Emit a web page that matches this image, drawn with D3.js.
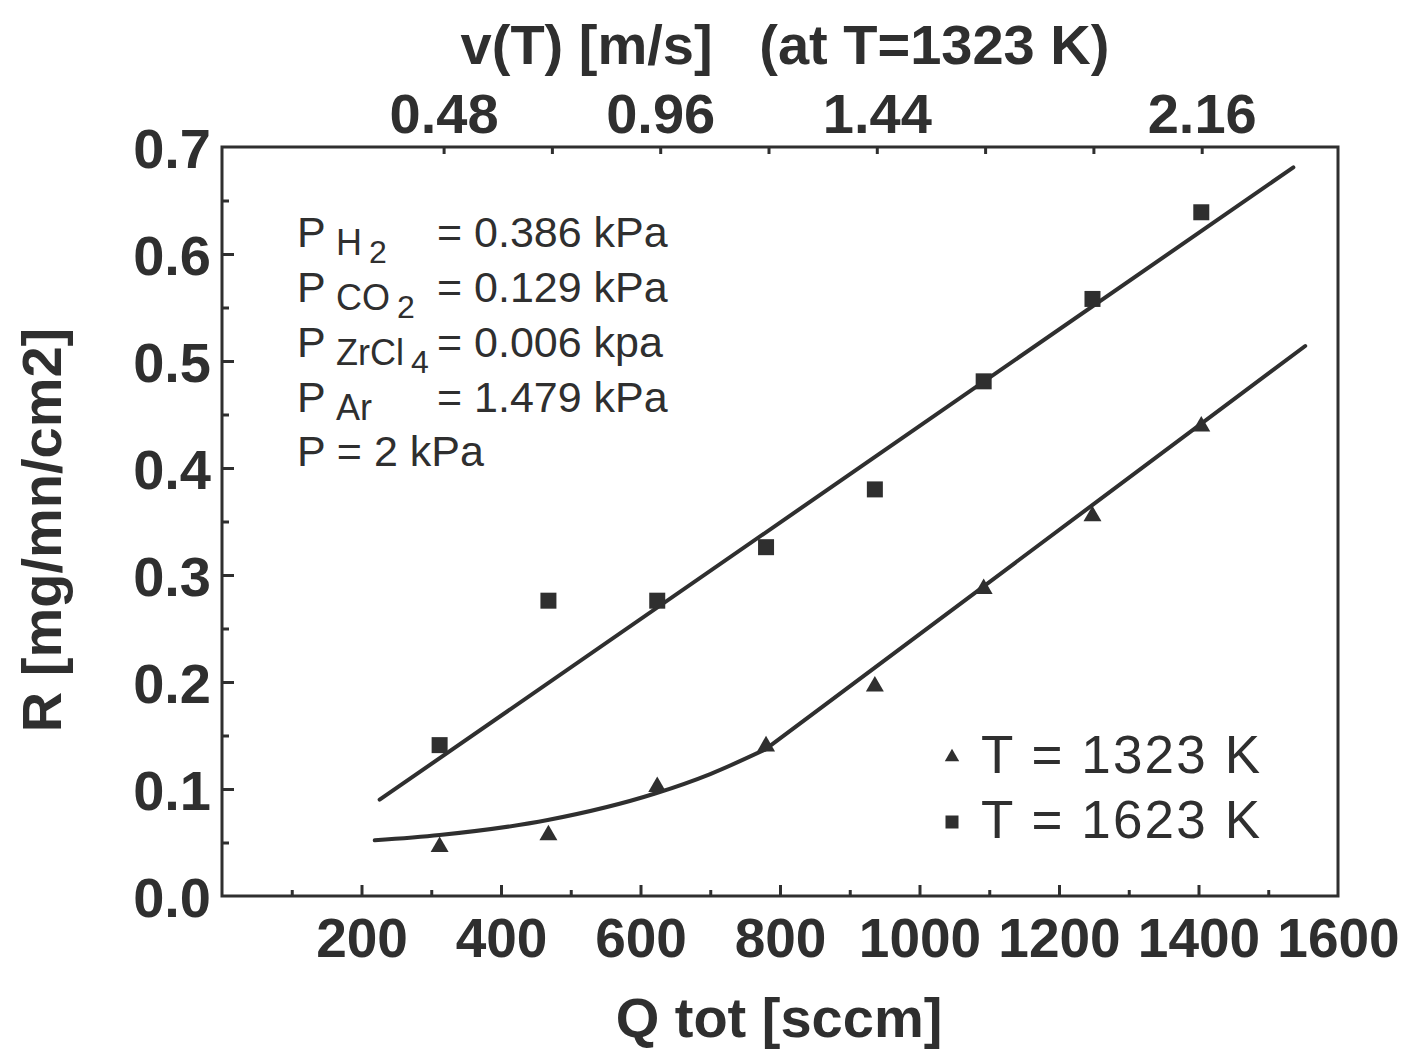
<!DOCTYPE html>
<html>
<head>
<meta charset="utf-8">
<script src="https://cdn.jsdelivr.net/npm/d3@7"></script>
<style>
  html, body { margin: 0; padding: 0; background: #ffffff; }
  svg { display: block; }
  text { font-family: "Liberation Sans", Arial, Helvetica, sans-serif; fill: #2f2f2f; }
</style>
</head>
<body>
<script>
// ---------------- data ----------------
const flowQ = [312, 468, 624, 780, 936, 1092, 1248, 1404];           // Q tot [sccm]
const rate1323 = [0.046, 0.057, 0.102, 0.140, 0.196, 0.287, 0.355, 0.439]; // triangles
const rate1623 = [0.141, 0.276, 0.276, 0.326, 0.380, 0.481, 0.558, 0.639]; // squares

const fit1623Q = [226, 1536];
const fit1623R = [0.090, 0.681];
// 1323 K fit: curved part at low flow, straight part above ~780 sccm
const fit1323CurveQ = [219, 312, 467, 622, 700, 779];
const fit1323CurveR = [0.052, 0.057, 0.071, 0.096, 0.114, 0.137];
const fit1323LineQ = [779, 1553];
const fit1323LineR = [0.137, 0.514];

const xTicksMajor = [200, 400, 600, 800, 1000, 1200, 1400, 1600];
const xTicksMinor = [100, 300, 500, 700, 900, 1100, 1300, 1500];
const yTicksMajor = [0.0, 0.1, 0.2, 0.3, 0.4, 0.5, 0.6, 0.7];
const yTicksMinor = [0.05, 0.15, 0.25, 0.35, 0.45, 0.55, 0.65];
const vTicks = [0.48, 0.72, 0.96, 1.20, 1.44, 1.68, 1.92, 2.16];
const vTickLabels = ["0.48", "", "0.96", "", "1.44", "", "", "2.16"];

const legendLabels = ["T = 1323 K", "T = 1623 K"];
const pressureLines = [
  { main: "P", sub: "H", subsub: "2", value: "= 0.386 kPa" },
  { main: "P", sub: "CO", subsub: "2", value: "= 0.129 kPa" },
  { main: "P", sub: "ZrCl", subsub: "4", value: "= 0.006 kpa" },
  { main: "P", sub: "Ar", subsub: "", value: "= 1.479 kPa" }
];
const totalPressure = "P = 2 kPa";

(function () {
// ---------------- layout ----------------
const W = 1421, H = 1053;
const pL = 222, pR = 1338, pT = 147, pB = 896;
const ink = "#2f2f2f";

const svg = d3.select("body").append("svg").attr("width", W).attr("height", H);

const x = d3.scaleLinear().domain([0, 1600]).range([pL, pR]);
const y = d3.scaleLinear().domain([0, 0.7]).range([pB, pT]);
const vStepPx = 108.3;
const vZeroPx = 227;
const v = d3.scaleLinear()
  .domain([-(vZeroPx - pL) / vStepPx * 0.24, (pR - vZeroPx) / vStepPx * 0.24])
  .range([pL, pR]);

function styleAxis(g) {
  g.select(".domain").remove();
  g.selectAll(".tick line").attr("stroke", ink).attr("stroke-width", 3);
}

// bottom major
const gxB = svg.append("g").attr("transform", `translate(0,${pB})`)
  .call(d3.axisBottom(x).tickValues(xTicksMajor).tickSize(-11).tickFormat(d3.format("d")));
styleAxis(gxB);
gxB.selectAll(".tick text")
  .attr("y", 61).attr("dy", 0)
  .style("font-size", "55px").style("font-weight", "bold").attr("fill", ink);
gxB.selectAll(".tick").filter(d => d === 1600).select("line").remove();

// bottom minor
const gxBm = svg.append("g").attr("transform", `translate(0,${pB})`)
  .call(d3.axisBottom(x).tickValues(xTicksMinor).tickSize(-6).tickFormat(""));
styleAxis(gxBm);

// left major
const gyL = svg.append("g").attr("transform", `translate(${pL},0)`)
  .call(d3.axisLeft(y).tickValues(yTicksMajor).tickSize(-12).tickPadding(11).tickFormat(d3.format(".1f")));
styleAxis(gyL);
gyL.selectAll(".tick text")
  .style("font-size", "56px").style("font-weight", "bold").attr("fill", ink).attr("dy", "0.36em");
gyL.selectAll(".tick").filter(d => d === 0 || d === 0.7).select("line").remove();

// left minor
const gyLm = svg.append("g").attr("transform", `translate(${pL},0)`)
  .call(d3.axisLeft(y).tickValues(yTicksMinor).tickSize(-7).tickFormat(""));
styleAxis(gyLm);

// top axis (velocity)
const gxT = svg.append("g").attr("transform", `translate(0,${pT})`)
  .call(d3.axisTop(v).tickValues(vTicks).tickSize(-7).tickFormat((d, i) => vTickLabels[i]));
styleAxis(gxT);
gxT.selectAll(".tick text")
  .attr("y", -14).attr("dy", 0)
  .style("font-size", "56px").style("font-weight", "bold").attr("fill", ink);

// frame
svg.append("rect")
  .attr("x", pL).attr("y", pT)
  .attr("width", pR - pL).attr("height", pB - pT)
  .attr("fill", "none").attr("stroke", ink).attr("stroke-width", 3);

// ---------------- titles ----------------
svg.append("text")
  .attr("x", 785).attr("y", 64)
  .attr("text-anchor", "middle")
  .style("white-space", "pre")
  .style("font-size", "56px").style("font-weight", "bold")
  .text("v(T) [m/s]   (at T=1323 K)");

svg.append("text")
  .attr("x", 779).attr("y", 1037)
  .attr("text-anchor", "middle")
  .style("font-size", "56px").style("font-weight", "bold")
  .text("Q tot [sccm]");

svg.append("text")
  .attr("transform", "translate(61,530) rotate(-90)")
  .attr("text-anchor", "middle")
  .style("font-size", "56px").style("font-weight", "bold")
  .text("R [mg/mn/cm2]");

// ---------------- fits ----------------
const lineStraight = d3.line().x(d => x(d[0])).y(d => y(d[1]));
const lineCurve = d3.line().x(d => x(d[0])).y(d => y(d[1])).curve(d3.curveMonotoneX);
const fitStyle = p => p.attr("fill", "none").attr("stroke", ink).attr("stroke-width", 4).attr("stroke-linecap", "round");

svg.append("path")
  .datum(fit1623Q.map((q, i) => [q, fit1623R[i]]))
  .attr("d", lineStraight).call(fitStyle);

svg.append("path")
  .datum(fit1323CurveQ.map((q, i) => [q, fit1323CurveR[i]]))
  .attr("d", lineCurve).call(fitStyle);

svg.append("path")
  .datum(fit1323LineQ.map((q, i) => [q, fit1323LineR[i]]))
  .attr("d", lineStraight).call(fitStyle);

// ---------------- markers ----------------
const tri = d3.symbol().type(d3.symbolTriangle).size(140);
const sq = d3.symbol().type(d3.symbolSquare).size(256);

svg.append("g").selectAll("path")
  .data(flowQ.map((q, i) => [q, rate1323[i]]))
  .join("path")
  .attr("transform", d => `translate(${x(d[0])},${y(d[1])})`)
  .attr("d", tri).attr("fill", ink);

svg.append("g").selectAll("path")
  .data(flowQ.map((q, i) => [q, rate1623[i]]))
  .join("path")
  .attr("transform", d => `translate(${x(d[0])},${y(d[1])})`)
  .attr("d", sq).attr("fill", ink);

// ---------------- legend ----------------
const legendSymbols = [d3.symbol().type(d3.symbolTriangle).size(90), d3.symbol().type(d3.symbolSquare).size(169)];
const legendY = [773, 838];
legendLabels.forEach((lab, i) => {
  svg.append("path")
    .attr("transform", `translate(952,${legendY[i] - 16})`)
    .attr("d", legendSymbols[i]).attr("fill", ink);
  svg.append("text")
    .attr("x", 981).attr("y", legendY[i])
    .attr("textLength", 279).attr("lengthAdjust", "spacing")
    .style("font-size", "53px")
    .text(lab);
});

// ---------------- pressure annotation ----------------
const annBase = [247, 302, 357, 412];
pressureLines.forEach((p, i) => {
  const t = svg.append("text").attr("y", annBase[i]).style("font-size", "43px");
  t.append("tspan").attr("x", 297).text(p.main);
  t.append("tspan").attr("x", 336).attr("dy", 8).style("font-size", "36px").text(p.sub);
  if (p.subsub) {
    t.append("tspan").attr("dx", 7).attr("dy", 8).style("font-size", "32px").text(p.subsub);
  }
  svg.append("text").attr("x", 437).attr("y", annBase[i]).style("font-size", "43px").text(p.value);
});
svg.append("text").attr("x", 297).attr("y", 466).style("font-size", "43px").text(totalPressure);
})();
</script>
</body>
</html>
